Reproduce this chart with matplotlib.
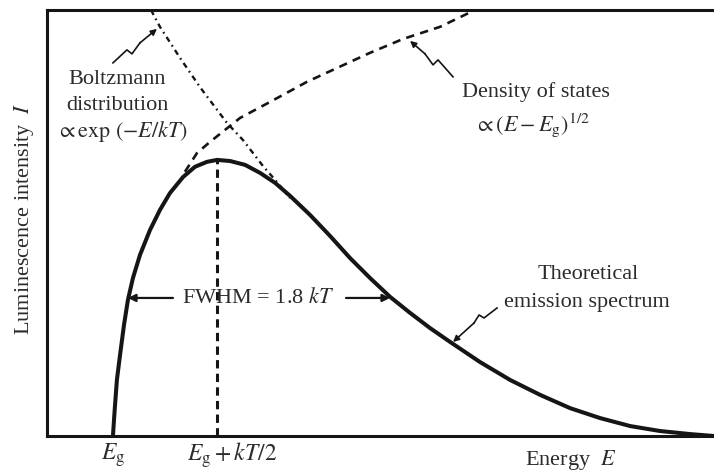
import matplotlib
matplotlib.use("Agg")
import matplotlib.pyplot as plt

plt.rcParams['font.family'] = ['Liberation Serif', 'DejaVu Serif']
plt.rcParams['mathtext.fontset'] = 'stix'
plt.rcParams['lines.scale_dashes'] = False

# ---- data (energy in units of kT above Eg, intensity normalised to peak) ----
spec_E = [0.000, 0.005, 0.010, 0.019, 0.034, 0.053, 0.072, 0.096, 0.130, 0.178,
          0.226, 0.274, 0.337, 0.394, 0.452, 0.500, 0.563, 0.635, 0.707, 0.779,
          0.851, 0.947, 1.043, 1.139, 1.236, 1.332, 1.428, 1.524, 1.620, 1.764,
          1.909, 2.053, 2.197, 2.341, 2.486, 2.630, 2.774, 2.889]
spec_I = [0.000, 0.058, 0.112, 0.203, 0.293, 0.402, 0.493, 0.572, 0.656, 0.746,
          0.819, 0.880, 0.938, 0.975, 0.993, 1.000, 0.996, 0.982, 0.953, 0.917,
          0.870, 0.801, 0.725, 0.645, 0.572, 0.504, 0.446, 0.391, 0.341, 0.268,
          0.203, 0.149, 0.101, 0.065, 0.036, 0.018, 0.007, 0.000]

dos_E = [0.346, 0.404, 0.466, 0.611, 0.755, 0.933, 1.077, 1.236, 1.394, 1.572, 1.740]
dos_I = [0.957, 1.025, 1.065, 1.152, 1.210, 1.283, 1.333, 1.388, 1.438, 1.482, 1.543]

boltz_E = [0.183, 0.226, 0.322, 0.418, 0.548, 0.625, 0.721, 0.788, 0.851]
boltz_I = [1.543, 1.482, 1.370, 1.264, 1.134, 1.072, 0.978, 0.920, 0.862]

peak_E = 0.5
peak_I = 1.0
half_left_E = 0.072
half_right_E = 1.332
half_I = 0.5

tick_labels = [r"$E_{\rm g}$", r"$E_{\rm g}+kT/2$"]

# ---- figure ----
W, H = 714, 473
fig = plt.figure(figsize=(W / 100, H / 100), dpi=100)
ax = fig.add_axes([47 / W, 37 / H, 667 / W, 426 / H])

x0, x1 = -0.317, 2.889
y0, y1 = 0.0, 1.543
ax.set_xlim(x0, x1)
ax.set_ylim(y0, y1)

def P(px, py):
    """layout helper: reference pixel position -> data coords"""
    return ((px - 113) / 208.0, (436 - py) / 276.0)

ink = '#151515'
txt = '#2b2b2b'

ax.plot(spec_E, spec_I, color=ink, lw=2.9, solid_capstyle='butt',
        solid_joinstyle='round', zorder=4)
ax.plot(dos_E, dos_I, color=ink, lw=1.9, linestyle=(0, (6.0, 4.5)), zorder=3)
ax.plot(boltz_E, boltz_I, color=ink, lw=1.7,
        linestyle=(0, (4.0, 3.0, 1.2, 3.0)), zorder=3)
ax.plot([peak_E, peak_E], [0, peak_I], color=ink, lw=2.2,
        linestyle=(0, (6.0, 3.8)), zorder=3)

for side in ['left', 'bottom', 'top']:
    ax.spines[side].set_linewidth(2.2)
    ax.spines[side].set_color(ink)
ax.spines['right'].set_visible(False)
ax.set_xticks([])
ax.set_yticks([])

fs = 16

# FWHM arrows and text
ax.annotate('', xy=(half_left_E, half_I), xytext=(P(173, 297)[0], half_I),
            arrowprops=dict(arrowstyle='-|>', color=ink, lw=1.6,
                            mutation_scale=11, shrinkA=0, shrinkB=0))
ax.annotate('', xy=(half_right_E, half_I), xytext=(P(346, 297)[0], half_I),
            arrowprops=dict(arrowstyle='-|>', color=ink, lw=1.6,
                            mutation_scale=11, shrinkA=0, shrinkB=0))
ax.text(*P(258, 298), r"FWHM = 1.8 $kT$", ha='center', va='center',
        fontsize=fs, color=txt)

# labels
def squiggle(pts, tip):
    xs = [P(*p)[0] for p in pts]
    ys = [P(*p)[1] for p in pts]
    ax.plot(xs, ys, color=ink, lw=1.2, zorder=5)
    ax.annotate('', xy=P(*tip), xytext=P(*pts[-1]),
                arrowprops=dict(arrowstyle='-|>', color=ink, lw=1.2,
                                mutation_scale=9, shrinkA=0, shrinkB=0))

ax.text(*P(117, 80), "Boltzmann", ha='center', va='center', fontsize=fs, color=txt)
ax.text(*P(117, 106), "distribution", ha='center', va='center', fontsize=fs, color=txt)
ax.text(*P(122, 132), r"$\propto \mathrm{exp}\ (-E/kT)$", ha='center', va='center',
        fontsize=fs, color=txt)
squiggle([(113, 63), (127, 50), (132, 54), (140, 43)], (157, 29))

ax.text(*P(536, 92), "Density of states", ha='center', va='center', fontsize=fs, color=txt)
ax.text(*P(532, 125), r"$\propto (E-E_{\rm g})^{1/2}$", ha='center', va='center',
        fontsize=fs, color=txt)
squiggle([(453, 77), (438, 60), (433, 65), (425, 54)], (410, 41))

ax.text(*P(588, 275), "Theoretical", ha='center', va='center', fontsize=fs, color=txt)
ax.text(*P(587, 303), "emission spectrum", ha='center', va='center', fontsize=fs, color=txt)
squiggle([(497, 308), (484, 318), (479, 315), (474, 323)], (453, 342))

# axis labels
ax.text(0.0, -0.045, tick_labels[0], transform=ax.get_xaxis_transform(),
        ha='center', va='center', fontsize=fs + 1, color=txt)
ax.text(P(232, 0)[0], -0.045, tick_labels[1], transform=ax.get_xaxis_transform(),
        ha='center', va='center', fontsize=fs + 1, color=txt)
ax.text(P(571, 0)[0], -0.057, r"Energy  $E$", transform=ax.get_xaxis_transform(),
        ha='center', va='center', fontsize=fs, color=txt)
ax.text(-23 / 667, (436 - 219) / 426, r"Luminescence intensity  $I$",
        transform=ax.transAxes, rotation=90, ha='center', va='center',
        fontsize=fs, color=txt)

fig.savefig("out.png", dpi=100)
